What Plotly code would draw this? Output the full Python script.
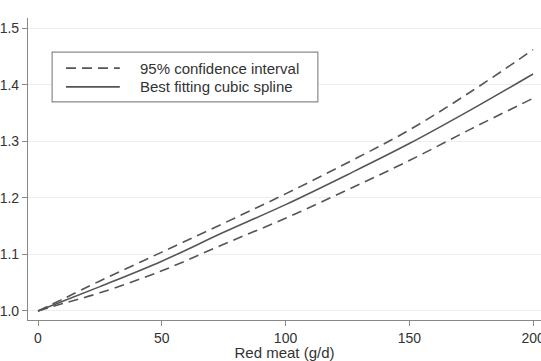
import plotly.graph_objects as go

# Data
red_meat = [0, 10, 25, 50, 75, 100, 125, 150, 175, 200]
rr_fit = [1.0, 1.017, 1.043, 1.088, 1.139, 1.188, 1.241, 1.296, 1.356, 1.419]
ci_upper = [1.0, 1.021, 1.053, 1.104, 1.155, 1.207, 1.262, 1.320, 1.388, 1.462]
ci_lower = [1.0, 1.013, 1.032, 1.071, 1.118, 1.164, 1.214, 1.266, 1.322, 1.376]

y_ticks = [1.0, 1.1, 1.2, 1.3, 1.4, 1.5]
y_ticklabels = ["1.0", "1.1", "1.2", "1.3", "1.4", "1.5"]
x_ticks = [0, 50, 100, 150, 200]

legend_labels = ["95% confidence interval", "Best fitting cubic spline"]

line_color = "#555555"
dash_style = "10px,6px"
font_family = "Liberation Sans, Arial, sans-serif"

fig = go.Figure()
fig.add_trace(go.Scatter(x=red_meat, y=ci_upper, mode="lines", line=dict(color=line_color, width=1.6, dash=dash_style, shape="spline"), showlegend=False))
fig.add_trace(go.Scatter(x=red_meat, y=ci_lower, mode="lines", line=dict(color=line_color, width=1.6, dash=dash_style, shape="spline"), showlegend=False))
fig.add_trace(go.Scatter(x=red_meat, y=rr_fit, mode="lines", line=dict(color=line_color, width=1.6, shape="spline"), showlegend=False))

# Manual legend box
shapes = [
    dict(type="rect", xref="paper", yref="paper", x0=0.047, x1=0.565, y0=0.722, y1=0.887,
         line=dict(color="#8a8a8a", width=1.2), fillcolor="white", layer="above"),
    dict(type="line", xref="paper", yref="paper", x0=0.074, x1=0.179, y0=0.834, y1=0.834,
         line=dict(color=line_color, width=1.6, dash=dash_style), layer="above"),
    dict(type="line", xref="paper", yref="paper", x0=0.074, x1=0.179, y0=0.772, y1=0.772,
         line=dict(color=line_color, width=1.6), layer="above"),
]
annotations = [
    dict(xref="paper", yref="paper", x=0.2144, y=0.834, text=legend_labels[0], showarrow=False,
         xanchor="left", yanchor="middle", font=dict(size=15, color="#333333", family=font_family)),
    dict(xref="paper", yref="paper", x=0.2144, y=0.772, text=legend_labels[1], showarrow=False,
         xanchor="left", yanchor="middle", font=dict(size=15, color="#333333", family=font_family)),
]

fig.update_layout(
    width=541, height=361,
    margin=dict(l=28, r=0, t=18, b=41),
    paper_bgcolor="white", plot_bgcolor="white",
    font=dict(family=font_family, color="#333333", size=13),
    shapes=shapes, annotations=annotations,
    xaxis=dict(range=[-4.04, 203.2], tickvals=x_ticks, ticks="outside", ticklen=5,
               tickcolor="#888888", showline=True, linecolor="#888888", linewidth=1.2,
               showgrid=False, zeroline=False, ticklabeloverflow="allow", automargin=False,
               title=dict(text="Red meat (g/d)", font=dict(size=15, color="#333333"), standoff=0),
               tickfont=dict(size=14, color="#333333")),
    yaxis=dict(range=[0.984, 1.518], tickvals=y_ticks, ticktext=y_ticklabels, ticks="outside",
               ticklen=5, tickcolor="#888888", showline=True, linecolor="#888888", linewidth=1.2,
               showgrid=True, gridcolor="#eeeeee", gridwidth=1, zeroline=False, automargin=False,
               ticklabeloverflow="allow",
               tickfont=dict(size=14, color="#333333")),
)

fig.write_html("out.html", config={"displayModeBar": False},
               post_script="document.body.style.margin='0';document.body.style.overflow='hidden';")
